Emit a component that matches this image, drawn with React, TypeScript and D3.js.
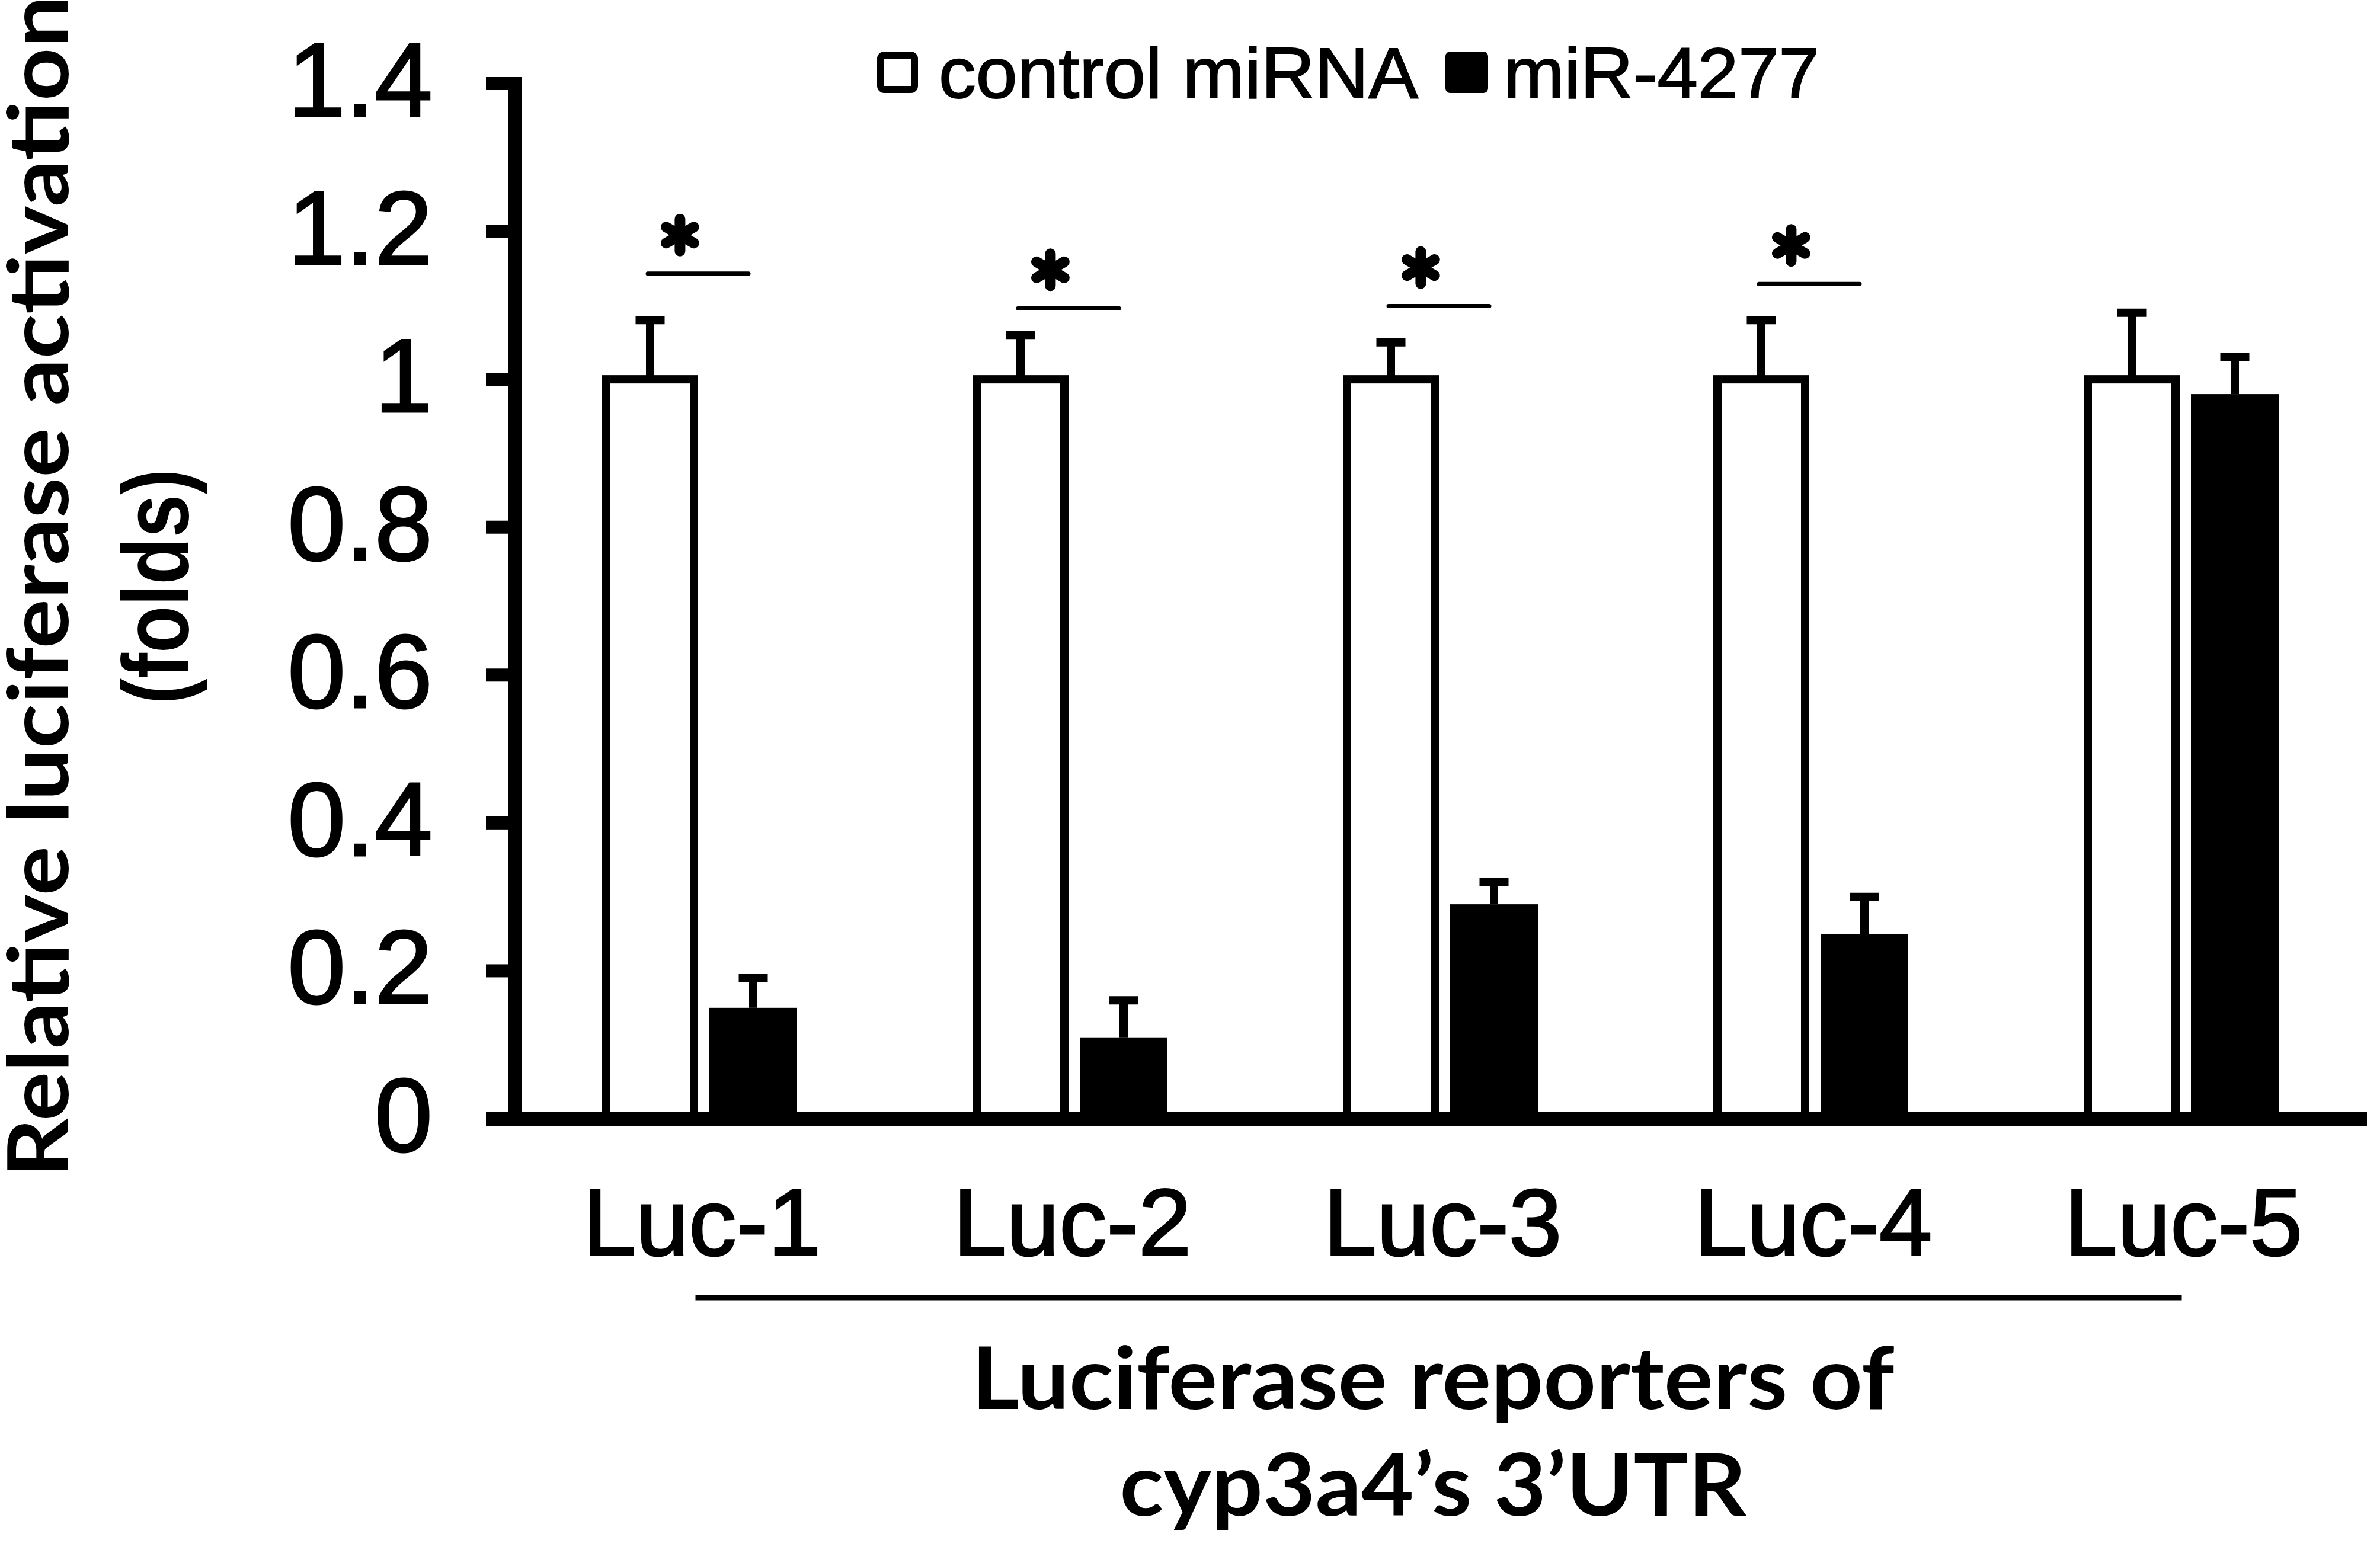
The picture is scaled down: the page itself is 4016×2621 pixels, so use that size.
import React from "react";
import * as d3 from "d3";

const categories = ["Luc-1", "Luc-2", "Luc-3", "Luc-4", "Luc-5"];
const seriesKeys = ["ctrl", "mir"];
const seriesLabels = ["control miRNA", "miR-4277"];
const controlValues = [1, 1, 1, 1, 1];
const controlErrors = [0.08, 0.06, 0.05, 0.08, 0.09];
const mirValues = [0.15, 0.11, 0.29, 0.25, 0.98];
const mirErrors = [0.04, 0.05, 0.03, 0.05, 0.05];
const yTicks = [0, 0.2, 0.4, 0.6, 0.8, 1, 1.2, 1.4];
const yTickLabels = ["0", "0.2", "0.4", "0.6", "0.8", "1", "1.2", "1.4"];
const sigCategories = ["Luc-1", "Luc-2", "Luc-3", "Luc-4"];
const sigLevels = [1.143, 1.096, 1.099, 1.129];

const W = 4016;
const H = 2621;
const SANS = "'Liberation Sans', Arial, sans-serif";
const BOLD = "Lato, 'Open Sans', sans-serif";

export default function App() {
  const y = d3.scaleLinear().domain([0, 1.4]).range([1888, 141]);
  const x0 = d3.scaleBand().domain(categories).range([869, 3994]).padding(0);
  const bw = x0.bandwidth();
  const x1 = d3
    .scaleBand()
    .domain(seriesKeys)
    .range([bw * 0.2464, bw * 0.7616])
    .paddingInner(0.1494);
  const b = x1.bandwidth();
  const capW = 49;

  const rows = categories.map((c, i) => ({
    c,
    ctrl: controlValues[i],
    ctrlErr: controlErrors[i],
    mir: mirValues[i],
    mirErr: mirErrors[i],
  }));

  const axisX = 869;
  const axisW = 22;
  const tickLeft = 820;
  const xEnd = 3994;

  const firstCenter = (x0(categories[0]) as number) + bw / 2;
  const lastCenter = (x0(categories[categories.length - 1]) as number) + bw / 2;

  return (
    <svg
      width={W}
      height={H}
      viewBox={`0 0 ${W} ${H}`}
      style={{ position: "absolute", left: 0, top: 0, background: "#fff" }}
    >
      <rect x={0} y={0} width={W} height={H} fill="#fff" />

      {/* Bars */}
      {rows.map((r) => {
        const gx = x0(r.c) as number;
        const cx = gx + (x1("ctrl") as number);
        const mx = gx + (x1("mir") as number);
        const cTop = y(r.ctrl);
        const cErrY = y(r.ctrl + r.ctrlErr);
        const mTop = y(r.mir);
        const mErrY = y(r.mir + r.mirErr);
        return (
          <g key={r.c}>
            <line x1={cx + b / 2} x2={cx + b / 2} y1={cTop} y2={cErrY} stroke="#000" strokeWidth={14} />
            <line x1={cx + b / 2 - capW / 2} x2={cx + b / 2 + capW / 2} y1={cErrY} y2={cErrY} stroke="#000" strokeWidth={14} />
            <rect x={cx} y={cTop} width={b} height={y(0) - cTop} fill="#fff" stroke="#000" strokeWidth={14} />
            <line x1={mx + b / 2} x2={mx + b / 2} y1={mTop} y2={mErrY} stroke="#000" strokeWidth={14} />
            <line x1={mx + b / 2 - capW / 2} x2={mx + b / 2 + capW / 2} y1={mErrY} y2={mErrY} stroke="#000" strokeWidth={14} />
            <rect x={mx} y={mTop} width={b} height={y(0) - mTop} fill="#000" />
          </g>
        );
      })}

      {/* Significance */}
      {sigCategories.map((c, i) => {
        const gx = x0(c) as number;
        const xa = gx + (x1("ctrl") as number) + b / 2 - 4;
        const xb = gx + (x1("mir") as number) + b / 2 - 8;
        const ly = y(sigLevels[i]);
        const ax = xa + 0.32 * (xb - xa);
        const ay = ly - 65;
        const L = 27;
        return (
          <g key={c}>
            <line x1={xa} x2={xb} y1={ly} y2={ly} stroke="#000" strokeWidth={7} strokeLinecap="round" />
            {[90, 30, 150].map((a) => {
              const rad = (a * Math.PI) / 180;
              return (
                <line
                  key={a}
                  x1={ax - L * Math.cos(rad)}
                  y1={ay - L * Math.sin(rad)}
                  x2={ax + L * Math.cos(rad)}
                  y2={ay + L * Math.sin(rad)}
                  stroke="#000"
                  strokeWidth={18}
                  strokeLinecap="round"
                />
              );
            })}
          </g>
        );
      })}

      {/* Y axis */}
      <rect x={axisX - axisW / 2} y={y(1.4) - 11} width={axisW} height={y(0) - y(1.4) + 23} fill="#000" />
      {yTicks.map((t, i) => (
        <g key={t}>
          <rect x={tickLeft} y={y(t) - 11} width={axisX - tickLeft} height={22} fill="#000" />
          <text
            x={730}
            y={y(t) + 55}
            textAnchor="end"
            fontFamily={SANS}
            fontSize={176}
            fill="#000"
            stroke="#000"
            strokeWidth={3}
          >
            {yTickLabels[i]}
          </text>
        </g>
      ))}

      {/* X axis */}
      <rect x={tickLeft} y={y(0) - 11} width={xEnd - tickLeft} height={23} fill="#000" />

      {/* Category labels */}
      {categories.map((c) => (
        <text
          key={c}
          x={(x0(c) as number) + bw / 2 + 3}
          y={2118}
          textAnchor="middle"
          fontFamily={SANS}
          fontSize={159}
          fill="#000"
          stroke="#000"
          strokeWidth={3}
          textLength={402}
          lengthAdjust="spacingAndGlyphs"
        >
          {c}
        </text>
      ))}

      {/* Bracket line */}
      <line x1={firstCenter - 8} x2={lastCenter} y1={2190} y2={2190} stroke="#000" strokeWidth={9} />

      {/* X title */}
      <text
        x={2418}
        y={2378}
        textAnchor="middle"
        fontFamily={BOLD}
        fontWeight={700}
        fontSize={146}
        fill="#000"
        textLength={1557}
        lengthAdjust="spacingAndGlyphs"
      >
        Luciferase reporters of
      </text>
      <text
        x={2418}
        y={2558}
        textAnchor="middle"
        fontFamily={BOLD}
        fontWeight={700}
        fontSize={146}
        fill="#000"
        textLength={1057}
        lengthAdjust="spacingAndGlyphs"
      >
        cyp3a4’s 3’UTR
      </text>

      {/* Y title */}
      <text
        transform="translate(115,990) rotate(-90)"
        textAnchor="middle"
        fontFamily={BOLD}
        fontWeight={700}
        fontSize={142}
        fill="#000"
        textLength={1995}
        lengthAdjust="spacingAndGlyphs"
      >
        Relative luciferase activation
      </text>
      <text
        transform="translate(317,990) rotate(-90)"
        textAnchor="middle"
        fontFamily={SANS}
        fontWeight={700}
        fontSize={158}
        fill="#000"
        textLength={397}
        lengthAdjust="spacingAndGlyphs"
      >
        (folds)
      </text>

      {/* Legend */}
      <rect x={1486} y={93} width={57} height={58} rx={6} fill="#fff" stroke="#000" strokeWidth={12} />
      <text
        x={1584}
        y={165}
        fontFamily={SANS}
        fontSize={121}
        fill="#000"
        stroke="#000"
        strokeWidth={2}
        textLength={809}
        lengthAdjust="spacingAndGlyphs"
      >
        {seriesLabels[0]}
      </text>
      <rect x={2439} y={87} width={72} height={70} rx={8} fill="#000" />
      <text
        x={2537}
        y={165}
        fontFamily={SANS}
        fontSize={121}
        fill="#000"
        stroke="#000"
        strokeWidth={2}
        textLength={533}
        lengthAdjust="spacingAndGlyphs"
      >
        {seriesLabels[1]}
      </text>
    </svg>
  );
}
